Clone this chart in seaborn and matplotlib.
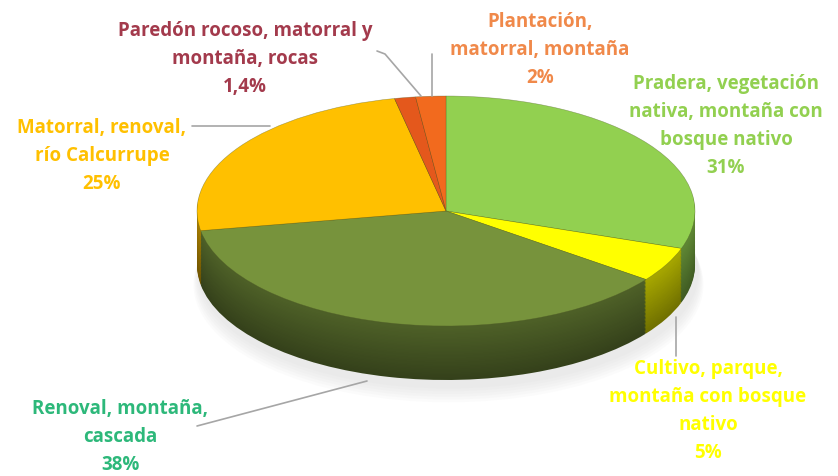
import numpy as np
import matplotlib
matplotlib.use('Agg')
import matplotlib.pyplot as plt
import matplotlib.colors as mcolors
import seaborn as sns

# Datos (orden horario desde las 12)
categorias = [
    'Pradera, vegetación\nnativa, montaña con\nbosque nativo',
    'Cultivo, parque,\nmontaña con bosque\nnativo',
    'Renoval, montaña,\ncascada',
    'Matorral, renoval,\nrío Calcurrupe',
    'Paredón rocoso, matorral y\nmontaña, rocas',
    'Plantación,\nmatorral, montaña',
]
valores = [31, 5, 38, 25, 1.4, 2]
etiquetas_pct = ['31%', '5%', '38%', '25%', '1,4%', '2%']

colores = ['#92D050', '#FFFF00', '#77933C', '#FFC000', '#E4581C', '#F26A1E']
colores_texto = ['#92D050', '#FFFF00', '#2DB87A', '#FFC000', '#A33A4C', '#F0894A']

# posiciones de etiquetas (pixeles desde arriba-izquierda)
pos_etiquetas = [(726, 126), (708, 411), (120, 437), (102, 156), (245, 59), (540, 50)]
lineas = [
    None,
    [(676, 318), (676, 357)],
    [(197, 427), (367, 382)],
    [(192, 127), (270, 127)],
    [(377, 52), (385, 55), (421, 97)],
    [(432, 55), (432, 97)],
]

sns.set_theme(style='white')
plt.rcParams['font.family'] = ['Open Sans', 'DejaVu Sans']

W, H = 838, 477
fig = plt.figure(figsize=(W / 100, H / 100), dpi=100)
ax = fig.add_axes([0, 0, 1, 1])

# geometria de la elipse (pixeles)
cx, cy, a, b = 446, 212, 249, 115
depth = 54 / b

# sombra suave bajo la torta
for s in range(6, 0, -1):
    ax.pie([1], colors=[(0.8, 0.8, 0.8, 0.07)], radius=1 + 0.004 * s,
           center=(0.01, -depth - 0.05 - 0.02 * s), wedgeprops=dict(linewidth=0))

# caras laterales: pilas de tortas desplazadas, mas oscuras hacia abajo
n_capas = 40
for k in range(n_capas, 0, -1):
    f = 0.66 - 0.22 * k / n_capas
    side_cols = [tuple(np.array(mcolors.to_rgb(c)) * f) for c in colores]
    ax.pie(valores, colors=side_cols, startangle=90, counterclock=False,
           center=(0, -depth * k / n_capas), radius=1,
           wedgeprops=dict(linewidth=0, antialiased=True))

# cara superior
ax.pie(valores, colors=colores, startangle=90, counterclock=False,
       center=(0, 0), radius=1,
       wedgeprops=dict(linewidth=0.4, edgecolor=(0.3, 0.35, 0.15, 0.5)))

ax.set_aspect('auto')
ax.set_xlim(-cx / a, (W - cx) / a)
ax.set_ylim(-(H - cy) / b, cy / b)
ax.axis('off')

for lab, pct, col, pos, ln in zip(categorias, etiquetas_pct, colores_texto, pos_etiquetas, lineas):
    if ln is not None:
        xs = [p[0] for p in ln]
        ys = [H - p[1] for p in ln]
        fig.add_artist(plt.Line2D(xs, ys, transform=None, color='#a6a6a6', lw=1.2))
    fig.text(pos[0] / W, (H - pos[1]) / H, lab + '\n' + pct, color=col,
             ha='center', va='center', fontsize=13.5, fontweight='bold',
             linespacing=1.55)

fig.savefig('out.png', dpi=100)
